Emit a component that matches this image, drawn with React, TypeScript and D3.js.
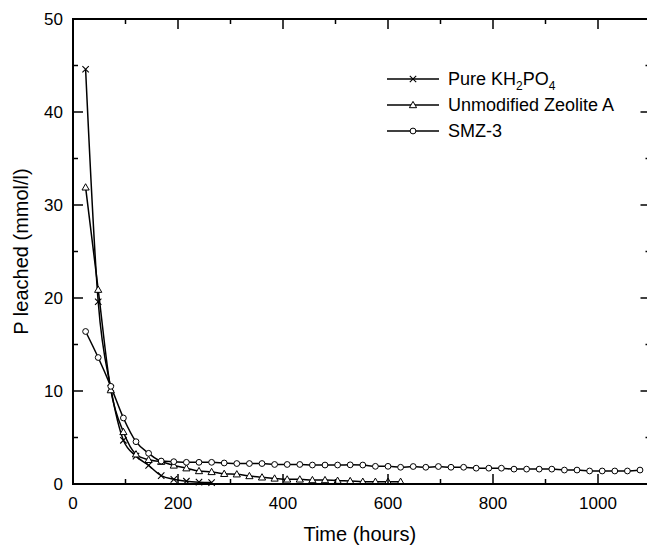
import React from "react";
import * as d3 from "d3";

const khHours = [24, 48, 72, 96, 120, 144, 168, 192, 216, 240, 264];
const khValues = [44.6, 19.6, 10.3, 4.7, 3.0, 2.0, 0.9, 0.5, 0.3, 0.2, 0.15];

const zeoHours = [24, 48, 72, 96, 120, 144, 168, 192, 216, 240, 264, 288, 312, 336, 360, 384, 408, 432, 456, 480, 504, 528, 552, 576, 600, 624];
const zeoValues = [31.9, 20.9, 10.1, 5.6, 3.2, 2.6, 2.4, 2.0, 1.7, 1.4, 1.3, 1.1, 1.05, 0.86, 0.72, 0.6, 0.5, 0.5, 0.43, 0.43, 0.36, 0.33, 0.25, 0.25, 0.25, 0.25];

const smzHours = [24, 48, 72, 96, 120, 144, 168, 192, 216, 240, 264, 288, 312, 336, 360, 384, 408, 432, 456, 480, 504, 528, 552, 576, 600, 624, 648, 672, 696, 720, 744, 768, 792, 816, 840, 864, 888, 912, 936, 960, 984, 1008, 1032, 1056, 1080];
const smzValues = [16.4, 13.6, 10.5, 7.1, 4.55, 3.3, 2.47, 2.4, 2.33, 2.33, 2.33, 2.26, 2.2, 2.2, 2.2, 2.1, 2.1, 2.1, 2.04, 2.04, 2.04, 2.06, 2.04, 1.9, 1.9, 1.8, 1.88, 1.8, 1.88, 1.8, 1.8, 1.7, 1.7, 1.7, 1.6, 1.6, 1.6, 1.6, 1.5, 1.5, 1.4, 1.4, 1.4, 1.4, 1.5];

const xTicksMajor = [0, 200, 400, 600, 800, 1000];
const xTicksMinor = [100, 300, 500, 700, 900, 1100];
const yTicksMajor = [0, 10, 20, 30, 40, 50];
const yTicksMinor = [5, 15, 25, 35, 45];

const xTitle = "Time (hours)";
const yTitle = "P leached (mmol/l)";

const FONT = "'Liberation Sans', Arial, sans-serif";

type Kind = "x" | "tri" | "circle";

function Marker({ kind, cx, cy }: { kind: Kind; cx: number; cy: number }) {
  if (kind === "x") {
    const s = 3.2;
    return (
      <path
        d={`M${cx - s},${cy - s}L${cx + s},${cy + s}M${cx - s},${cy + s}L${cx + s},${cy - s}`}
        stroke="#000"
        strokeWidth={1.1}
        fill="none"
      />
    );
  }
  if (kind === "tri") {
    const s = 3.6;
    return (
      <path
        d={`M${cx},${cy - s}L${cx + s},${cy + s * 0.75}L${cx - s},${cy + s * 0.75}Z`}
        stroke="#000"
        strokeWidth={1}
        fill="#fff"
      />
    );
  }
  return <circle cx={cx} cy={cy} r={2.9} stroke="#000" strokeWidth={1} fill="#fff" />;
}

export default function App() {
  const W = 647;
  const H = 545;
  const left = 73;
  const right = 650.5;
  const top = 19;
  const bottom = 484;

  const x = d3.scaleLinear().domain([0, 1100]).range([left, right]);
  const y = d3.scaleLinear().domain([0, 50]).range([bottom, top]);

  const line = d3
    .line<[number, number]>()
    .x((d) => x(d[0]))
    .y((d) => y(d[1]))
    .curve(d3.curveMonotoneX);

  const series: { name: React.ReactNode; kind: Kind; hours: number[]; values: number[] }[] = [
    {
      name: (
        <>
          Pure KH
          <tspan dy={5} fontSize={12}>2</tspan>
          <tspan dy={-5}>PO</tspan>
          <tspan dy={5} fontSize={12}>4</tspan>
        </>
      ),
      kind: "x",
      hours: khHours,
      values: khValues,
    },
    { name: "Unmodified Zeolite A", kind: "tri", hours: zeoHours, values: zeoValues },
    { name: "SMZ-3", kind: "circle", hours: smzHours, values: smzValues },
  ];

  const legendX0 = 387;
  const legendX1 = 439;
  const legendTextX = 448;
  const legendY0 = 79;
  const legendDy = 26;

  return (
    <svg
      width={W}
      height={H}
      style={{ position: "absolute", left: 0, top: 0, background: "#fff" }}
      fontFamily={FONT}
    >
      <rect x={0} y={0} width={W} height={H} fill="#fff" />
      {series.map((s, i) => {
        const pts = s.hours.map((h, j) => [h, s.values[j]] as [number, number]);
        return (
          <path key={"l" + i} d={line(pts) || ""} fill="none" stroke="#000" strokeWidth={1.5} />
        );
      })}
      {series.map((s, i) => (
        <g key={"m" + i}>
          {s.hours.map((h, j) => (
            <Marker key={j} kind={s.kind} cx={x(h)} cy={y(s.values[j])} />
          ))}
        </g>
      ))}
      <rect
        x={left}
        y={top}
        width={right - left}
        height={bottom - top}
        fill="none"
        stroke="#000"
        strokeWidth={2}
      />
      {xTicksMajor.map((t) => (
        <g key={"xM" + t}>
          <line x1={x(t)} x2={x(t)} y1={bottom} y2={bottom - 10} stroke="#000" strokeWidth={1.5} />
          <line x1={x(t)} x2={x(t)} y1={top} y2={top + 10} stroke="#000" strokeWidth={1.5} />
          <text x={x(t)} y={509} textAnchor="middle" fontSize={17} fill="#000">
            {t}
          </text>
        </g>
      ))}
      {xTicksMinor.map((t) => (
        <g key={"xm" + t}>
          <line x1={x(t)} x2={x(t)} y1={bottom} y2={bottom - 5} stroke="#000" strokeWidth={1.5} />
          <line x1={x(t)} x2={x(t)} y1={top} y2={top + 5} stroke="#000" strokeWidth={1.5} />
        </g>
      ))}
      {yTicksMajor.map((t) => (
        <g key={"yM" + t}>
          <line x1={left} x2={left + 10} y1={y(t)} y2={y(t)} stroke="#000" strokeWidth={1.5} />
          <line x1={right} x2={right - 10} y1={y(t)} y2={y(t)} stroke="#000" strokeWidth={1.5} />
          <text x={63} y={y(t)} dy="0.35em" textAnchor="end" fontSize={17} fill="#000">
            {t}
          </text>
        </g>
      ))}
      {yTicksMinor.map((t) => (
        <g key={"ym" + t}>
          <line x1={left} x2={left + 5} y1={y(t)} y2={y(t)} stroke="#000" strokeWidth={1.5} />
          <line x1={right} x2={right - 5} y1={y(t)} y2={y(t)} stroke="#000" strokeWidth={1.5} />
        </g>
      ))}
      <text x={(left + right) / 2 - 2} y={541} textAnchor="middle" fontSize={20} fill="#000">
        {xTitle}
      </text>
      <text
        transform={`translate(28,${(top + bottom) / 2}) rotate(-90)`}
        textAnchor="middle"
        fontSize={20}
        fill="#000"
      >
        {yTitle}
      </text>
      {series.map((s, i) => {
        const ly = legendY0 + i * legendDy;
        return (
          <g key={"lg" + i}>
            <line x1={legendX0} x2={legendX1} y1={ly} y2={ly} stroke="#000" strokeWidth={1.5} />
            <Marker kind={s.kind} cx={(legendX0 + legendX1) / 2} cy={ly} />
            <text x={legendTextX} y={ly} dy="0.35em" fontSize={18} fill="#000">
              {s.name}
            </text>
          </g>
        );
      })}
    </svg>
  );
}
